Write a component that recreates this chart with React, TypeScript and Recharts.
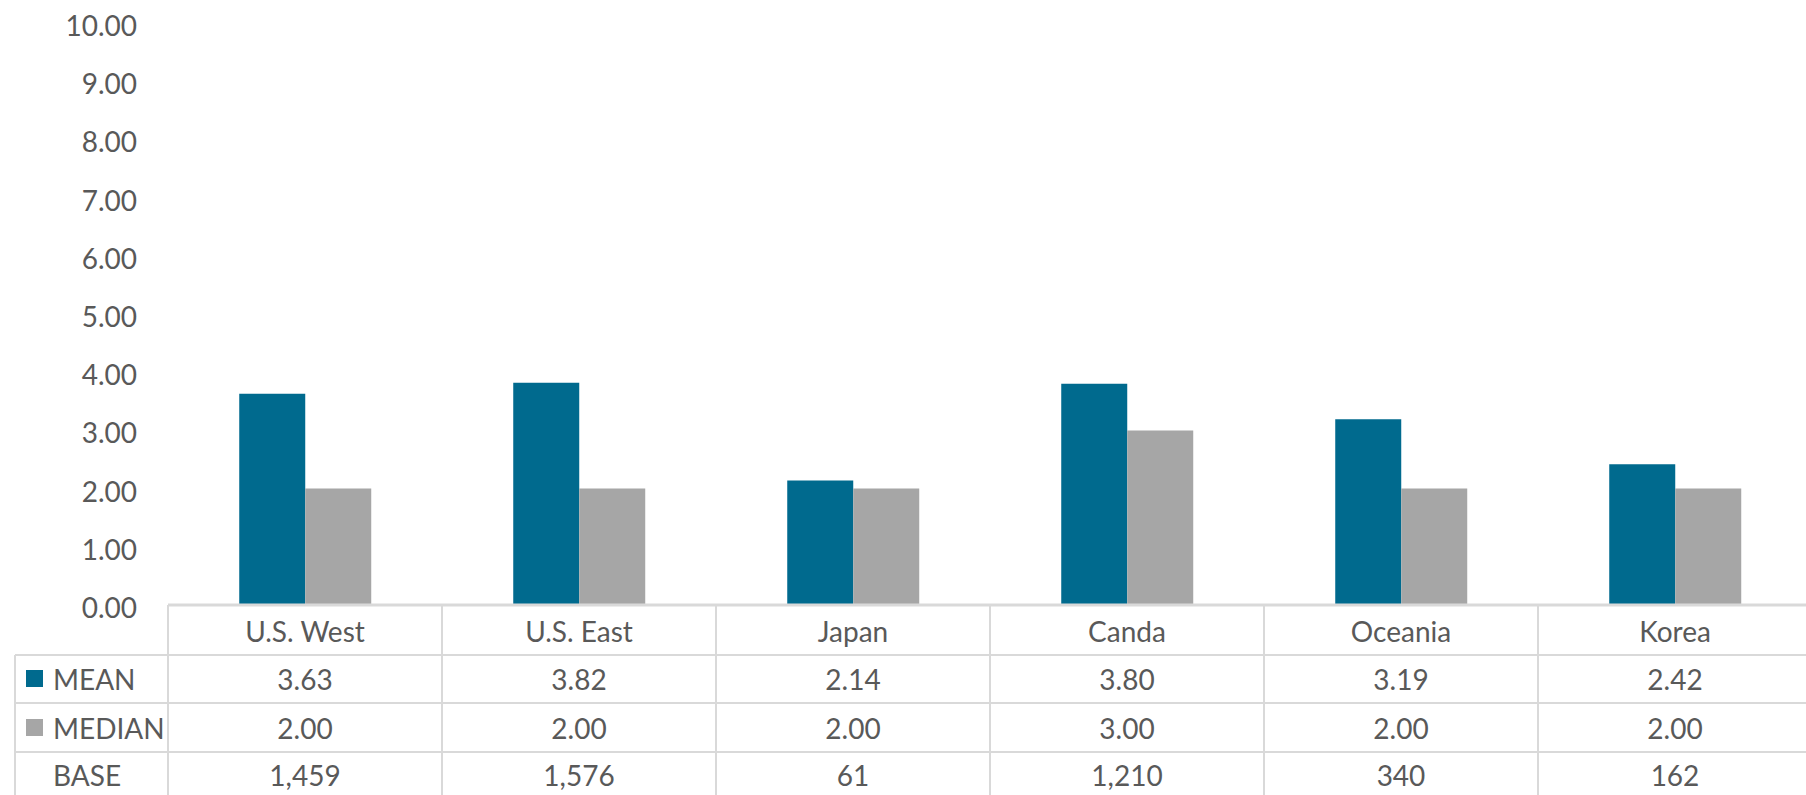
import { BarChart, Bar, XAxis, YAxis, Customized } from "recharts";

const categories = ["U.S. West", "U.S. East", "Japan", "Canda", "Oceania", "Korea"];
const meanValues = [3.63, 3.82, 2.14, 3.8, 3.19, 2.42];
const medianValues = [2.0, 2.0, 2.0, 3.0, 2.0, 2.0];
const baseCounts = [1459, 1576, 61, 1210, 340, 162];
const yTicks = [0, 1, 2, 3, 4, 5, 6, 7, 8, 9, 10];

const data = categories.map((name, i) => ({
  name,
  mean: meanValues[i],
  median: medianValues[i],
  base: baseCounts[i],
}));

const W = 1812;
const H = 795;
const LEFT = 168;
const TOP = 23;
const AXIS_Y = 605;
const CELL_W = (W - LEFT) / categories.length;
const ROW_Y = [631, 679, 728, 775];
const LINE_Y = [655, 703, 752];

const MEAN_COLOR = "#006A8E";
const MEDIAN_COLOR = "#A6A6A6";
const GRID = "#D9D9D9";
const TEXT = "#595959";
const FONT = "Lato, 'Open Sans', sans-serif";
const FS = 28;

function YTick(props: any) {
  const { y, payload } = props;
  return (
    <text x={137} y={y + 2} textAnchor="end" dominantBaseline="central" fill={TEXT} fontSize={FS} fontFamily={FONT}>
      {Number(payload.value).toFixed(2)}
    </text>
  );
}

function TableTick(props: any) {
  const { x, payload } = props;
  const row = data[payload.index];
  const cells = [row.name, row.mean.toFixed(2), row.median.toFixed(2), row.base.toLocaleString("en-US")];
  const left = x - CELL_W / 2;
  return (
    <g>
      <line x1={left} y1={AXIS_Y} x2={left} y2={H} stroke={GRID} strokeWidth={2} />
      {cells.map((c, i) => (
        <text key={i} x={x} y={ROW_Y[i]} textAnchor="middle" dominantBaseline="central" fill={TEXT} fontSize={FS} fontFamily={FONT}>
          {c}
        </text>
      ))}
    </g>
  );
}

function TableFrame() {
  const labels = [
    { text: "MEAN", color: MEAN_COLOR },
    { text: "MEDIAN", color: MEDIAN_COLOR },
    { text: "BASE", color: null },
  ];
  return (
    <g>
      {LINE_Y.map((ly) => (
        <line key={ly} x1={15} y1={ly} x2={W} y2={ly} stroke={GRID} strokeWidth={2} />
      ))}
      <line x1={15} y1={LINE_Y[0]} x2={15} y2={H} stroke={GRID} strokeWidth={2} />
      {labels.map((l, i) => (
        <g key={l.text}>
          {l.color && <rect x={26} y={ROW_Y[i + 1] - 9} width={17} height={17} fill={l.color} />}
          <text x={53} y={ROW_Y[i + 1]} dominantBaseline="central" fill={TEXT} fontSize={FS} fontFamily={FONT}>
            {l.text}
          </text>
        </g>
      ))}
    </g>
  );
}

export default function App() {
  return (
    <div style={{ position: "absolute", left: 0, top: 0, width: 1806, height: H, overflow: "hidden", background: "#fff" }}>
      <BarChart
        width={W}
        height={H}
        data={data}
        margin={{ top: TOP, right: 0, bottom: 0, left: 0 }}
        barCategoryGap="26%"
        barGap={0}
      >
        <YAxis
          width={LEFT}
          domain={[0, 10]}
          ticks={yTicks}
          interval={0}
          axisLine={false}
          tickLine={false}
          tick={<YTick />}
        />
        <XAxis
          dataKey="name"
          height={H - AXIS_Y}
          interval={0}
          axisLine={{ stroke: GRID, strokeWidth: 3 }}
          tickLine={false}
          tick={<TableTick />}
        />
        <Bar dataKey="mean" fill={MEAN_COLOR} isAnimationActive={false} />
        <Bar dataKey="median" fill={MEDIAN_COLOR} isAnimationActive={false} />
        <Customized component={<TableFrame />} />
      </BarChart>
    </div>
  );
}
